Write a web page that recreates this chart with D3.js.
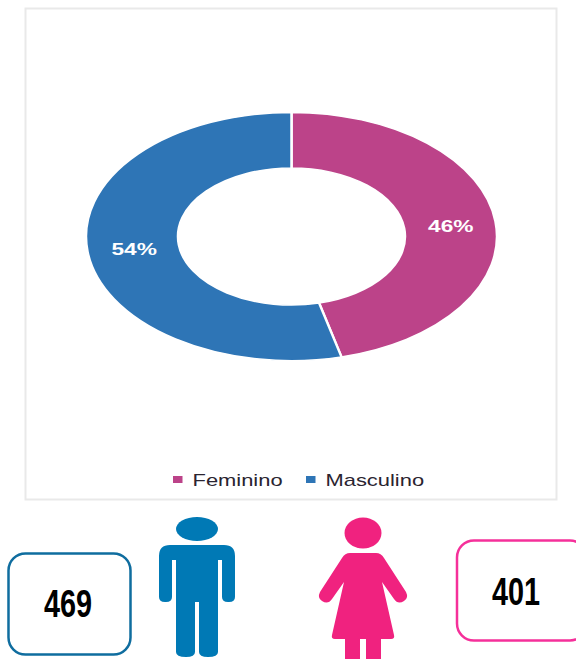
<!DOCTYPE html>
<html lang="en">
<head>
<meta charset="UTF-8">
<title>Feminino / Masculino</title>
<script src="https://cdn.jsdelivr.net/npm/d3@7"></script>
<style>
  html, body { margin: 0; padding: 0; background: #fff; }
  svg { display: block; }
  text { font-family: "Liberation Sans", Arial, sans-serif; }
</style>
</head>
<body>
<svg id="chart" width="576" height="659"></svg>
<script>
// dados
var categories = ["Feminino", "Masculino"];
var counts = [401, 469];
var percentLabels = ["46%", "54%"];
var colors = ["#bc4389", "#2e75b6"];

var svg = d3.select("#chart");

// moldura do grafico
svg.append("rect")
    .attr("x", 25.5).attr("y", 8.5)
    .attr("width", 531).attr("height", 491)
    .attr("fill", "#fff")
    .attr("stroke", "#e9e9e9")
    .attr("stroke-width", 2);

// rosca achatada: o original foi esticado na horizontal
var cx = 291.5, cy = 236.5, rOuter = 205.5, rInner = 113.5, squash = 0.604;

var pie = d3.pie().sort(null)(counts);
var arc = d3.arc().innerRadius(rInner).outerRadius(rOuter);

var donut = svg.append("g")
    .attr("transform", "translate(" + cx + "," + cy + ") scale(1," + squash + ")");

donut.selectAll("path")
    .data(pie)
    .enter()
    .append("path")
    .attr("d", arc)
    .attr("fill", (d, i) => colors[i])
    .attr("stroke", "#fff")
    .attr("stroke-width", 2.5);

svg.selectAll(".pct")
    .data(pie)
    .enter()
    .append("text")
    .attr("class", "pct")
    .attr("transform", function (d) {
        var c = arc.centroid(d);
        return "translate(" + (cx + c[0] + 1) + "," + (cy + c[1] * squash + 7) + ") scale(1.42,1)";
    })
    .attr("text-anchor", "middle")
    .attr("font-size", 16)
    .attr("font-weight", "bold")
    .attr("fill", "#fff")
    .text((d, i) => percentLabels[i]);

// legenda
var legendX = d3.scaleOrdinal().domain(categories).range([173, 306]);

var legend = svg.selectAll(".legend")
    .data(categories)
    .enter()
    .append("g")
    .attr("class", "legend")
    .attr("transform", d => "translate(" + legendX(d) + ",486)");

legend.append("rect")
    .attr("x", 0).attr("y", -10)
    .attr("width", 9.5).attr("height", 7)
    .attr("fill", (d, i) => colors[i]);

legend.append("text")
    .attr("transform", "translate(19.5,0) scale(1.37,1)")
    .attr("font-size", 16)
    .attr("fill", "#2a2430")
    .text(d => d);

// caixas com os totais
function countBox(x, y, w, h, stroke, value, textX, baseline) {
    svg.append("rect")
        .attr("x", x).attr("y", y)
        .attr("width", w).attr("height", h)
        .attr("rx", 17)
        .attr("fill", "#fff")
        .attr("stroke", stroke)
        .attr("stroke-width", 2.5);
    svg.append("text")
        .attr("transform", "translate(" + textX + "," + baseline + ") scale(0.74,1)")
        .attr("text-anchor", "middle")
        .attr("font-size", 39)
        .attr("font-weight", "bold")
        .attr("fill", "#000")
        .text(value);
}
countBox(8.5, 553.5, 122, 101, "#0f6d9f", counts[1], 68, 617);
countBox(457, 540.5, 130, 100, "#f5309a", counts[0], 516, 605);

// boneco masculino
var man = svg.append("g").attr("fill", "#0079b5");
man.append("ellipse")
    .attr("cx", 197).attr("cy", 529)
    .attr("rx", 21).attr("ry", 12);
man.append("path")
    .attr("d", "M170,545 H224 Q235,545 235,556 V597 Q235,602 229,602 H228 Q222,602 222,597 V560 H218 V652 Q218,657 208,657 Q199,657 199,652 V602 H195 V652 Q195,657 186,657 Q176,657 176,652 V560 H172 V597 Q172,602 166,602 H165 Q159,602 159,597 V556 Q159,545 170,545 Z");

// boneco feminino
var woman = svg.append("g").attr("fill", "#f0227f");
woman.append("ellipse")
    .attr("cx", 363).attr("cy", 533)
    .attr("rx", 18.5).attr("ry", 15.5);
woman.append("path")
    .attr("d", "M350,553 H376 Q381,553 384,558 L406,592 Q409,598 404,601 Q398,605 394,599 L382,582 L394,635 Q395,639 391,639 H381 V659 H366 V639 H360 V659 H345 V639 H335 Q331,639 332,635 L344,582 L332,599 Q328,605 322,601 Q317,598 320,592 L342,558 Q345,553 350,553 Z");
</script>
</body>
</html>
